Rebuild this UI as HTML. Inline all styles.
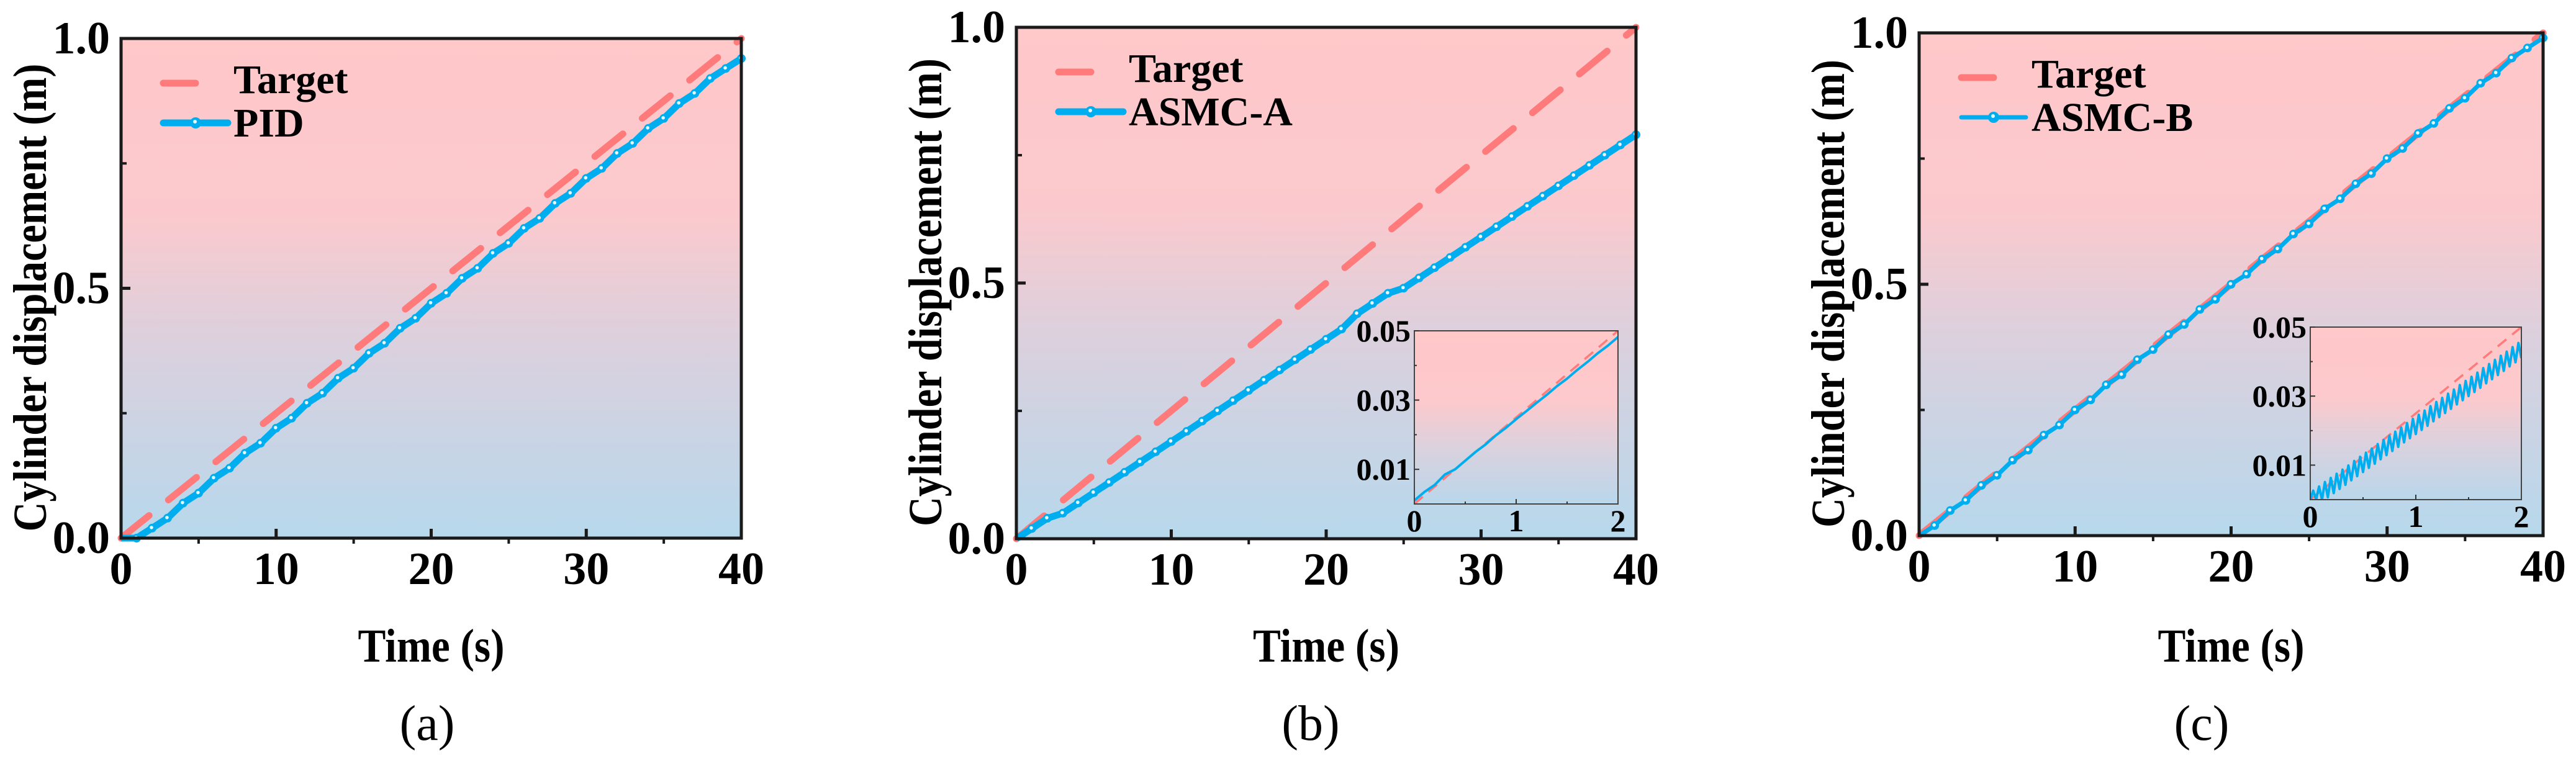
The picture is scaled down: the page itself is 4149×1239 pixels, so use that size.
<!DOCTYPE html>
<html><head><meta charset="utf-8"><style>
html,body{margin:0;padding:0;background:#fff;}
svg{display:block;font-family:"Liberation Serif",serif;}
</style></head>
<body>
<svg id="fig" width="4149" height="1239" viewBox="0 0 4149 1239" xmlns="http://www.w3.org/2000/svg">
<defs>
<linearGradient id="bg" x1="0" y1="0" x2="0" y2="1">
<stop offset="0" stop-color="#ffc8c9"/><stop offset="0.35" stop-color="#fbc9cd"/>
<stop offset="0.6" stop-color="#dcd0dd"/><stop offset="1" stop-color="#b7d8ec"/>
</linearGradient>
<linearGradient id="bgi" x1="0" y1="0" x2="0" y2="1">
<stop offset="0" stop-color="#ffc8c9"/><stop offset="0.4" stop-color="#fdc9cc"/>
<stop offset="0.7" stop-color="#d8d2df"/><stop offset="1" stop-color="#b9d7eb"/>
</linearGradient>
</defs>
</svg>
<script>
// ---- data ----
const timeSec = [0,1,2,3,4,5,6,7,8,9,10,11,12,13,14,15,16,17,18,19,20,21,22,23,24,25,26,27,28,29,30,31,32,33,34,35,36,37,38,39,40];
const targetT = [0,40];
const targetV = [0,1.0];
const pidV = [0,0,0.02,0.04,0.07,0.09,0.12,0.14,0.17,0.19,0.22,0.24,0.27,0.29,0.32,0.34,0.37,0.39,0.42,0.44,0.47,0.49,0.52,0.54,0.57,0.59,0.62,0.64,0.67,0.69,0.72,0.74,0.77,0.79,0.82,0.84,0.87,0.89,0.92,0.94,0.96];
const asmcAV = [0,0.02,0.04,0.05,0.07,0.09,0.11,0.13,0.15,0.17,0.19,0.21,0.23,0.25,0.27,0.29,0.31,0.33,0.35,0.37,0.39,0.41,0.44,0.46,0.48,0.49,0.51,0.53,0.55,0.57,0.59,0.61,0.63,0.65,0.67,0.69,0.71,0.73,0.75,0.77,0.79];
const asmcBV = [0,0.02,0.05,0.07,0.10,0.12,0.15,0.17,0.20,0.22,0.25,0.27,0.30,0.32,0.35,0.37,0.40,0.42,0.45,0.47,0.50,0.52,0.55,0.57,0.60,0.62,0.65,0.67,0.70,0.72,0.75,0.77,0.80,0.82,0.85,0.87,0.90,0.92,0.95,0.97,0.99];
const xTicks = [0,10,20,30,40];
const xMinor = [5,15,25,35];
const yTicks = [0,0.5,1.0];
const yTickLabels = ["0.0","0.5","1.0"];
const yMinor = [0.25,0.75];
// inset data
const insetTargetT = [0,2];
const insetTargetV = [0,0.05];
const insetAStep = 0.1;
const insetAV = [0.001,0.0035,0.0055,0.0085,0.0100,0.0125,0.0150,0.0172,0.0198,0.0220,0.0245,0.0268,0.0292,0.0315,0.0340,0.0362,0.0387,0.0410,0.0435,0.0457,0.0482];
const insetBStep = 2/72;
const insetBV = [0,0.0026,0,0.0038,0,0.0051,0.0007,0.0063,0.0019,0.0075,0.0031,0.0087,0.0043,0.0099,0.0056,0.0112,0.0068,0.0124,0.0080,0.0136,0.0092,0.0148,0.0104,0.0161,0.0117,0.0173,0.0129,0.0185,0.0141,0.0197,0.0153,0.0209,0.0166,0.0222,0.0178,0.0234,0.0190,0.0246,0.0202,0.0258,0.0214,0.0271,0.0227,0.0283,0.0239,0.0295,0.0251,0.0307,0.0263,0.0319,0.0276,0.0332,0.0288,0.0344,0.0300,0.0356,0.0312,0.0368,0.0324,0.0381,0.0337,0.0393,0.0349,0.0405,0.0361,0.0417,0.0373,0.0429,0.0386,0.0442,0.0398,0.0454,0.0410];
const insetXTicks = [0,1,2];
const insetXMinor = [0.5,1.5];
const insetYTicks = [0.01,0.03,0.05];
const insetYTickLabels = ["0.01","0.03","0.05"];
const insetYMinor = [0.02,0.04];

const NS = "http://www.w3.org/2000/svg";
const svg = document.getElementById('fig');
function mk(tag, attrs, parent){const e=document.createElementNS(NS,tag);for(const k in attrs)e.setAttribute(k,attrs[k]);(parent||svg).appendChild(e);return e;}
function txt(s, attrs, parent){const e=mk('text',attrs,parent);e.textContent=s;return e;}

const TCOL="#ff7b7b", BCOL="#00aeef";

function panel(P){
  const g = mk('g',{});
  
  
  const sx = v => P.L + (v-0)/40*(P.R-P.L);
  const sy = v => P.B - (v-0)/1*(P.B-P.T);
  const bg = mk('rect',{x:P.L,y:P.T,width:P.R-P.L,height:P.B-P.T,fill:'url(#bg)'},g);
  
  
  const tgt = mk('polyline',{points:targetT.map((t,i)=>sx(t)+','+sy(targetV[i])).join(' '),fill:'none',stroke:TCOL,'stroke-width':11,'stroke-dasharray':'58 40','stroke-linecap':'round'},g);
  
  
  const ser = mk('polyline',{points:timeSec.map((t,i)=>sx(t)+','+sy(P.vals[i])).join(' '),fill:'none',stroke:BCOL,'stroke-width':P.sw,'stroke-linejoin':'round'},g);
  
  
  timeSec.forEach((t,i)=>{
    if(t===0) return;
    const c = mk('circle',{cx:sx(t),cy:sy(P.vals[i]),r:7,fill:BCOL},g);
    
    
    mk('circle',{cx:sx(t)-1,cy:sy(P.vals[i])-1,r:2.8,fill:'#e8f8ff'},g);
  });
  if(P.inset) inset(P.inset, g);
  const fr = mk('rect',{x:P.L,y:P.T,width:P.R-P.L,height:P.B-P.T,fill:'none',stroke:'#1a1a1a','stroke-width':5},g);
  
  
  xTicks.forEach(v=>{
    if(v>0&&v<40) mk('line',{x1:sx(v),x2:sx(v),y1:P.B,y2:P.B-15,stroke:'#1a1a1a','stroke-width':5},g);
    const l = txt(String(v),{x:sx(v),y:P.B+74,'font-size':74,'font-weight':'bold','text-anchor':'middle'},g);
    
    
  });
  xMinor.forEach(v=>mk('line',{x1:sx(v),x2:sx(v),y1:P.B,y2:P.B+9,stroke:'#1a1a1a','stroke-width':4},g));
  yTicks.forEach((v,i)=>{
    const l = txt(yTickLabels[i],{x:P.L-18,y:sy(v)+24,'font-size':74,'font-weight':'bold','text-anchor':'end'},g);
    
    
    if(v>0&&v<1) mk('line',{x1:P.L,x2:P.L+15,y1:sy(v),y2:sy(v),stroke:'#1a1a1a','stroke-width':5},g);
  });
  yMinor.forEach(v=>mk('line',{x1:P.L,x2:P.L+9,y1:sy(v),y2:sy(v),stroke:'#1a1a1a','stroke-width':4},g));
  const lg = mk('g',{},g);
  
  
  const lx = P.L+68, ly1 = P.T+72, ly2 = P.T+136;
  mk('line',{x1:lx,x2:lx+52,y1:ly1,y2:ly1,stroke:TCOL,'stroke-width':11,'stroke-linecap':'round'},lg);
  const t1 = txt('Target',{x:P.L+181,y:ly1+16,'font-size':66,'font-weight':'bold'},lg);
  
  
  mk('line',{x1:lx,x2:lx+104,y1:ly2,y2:ly2,stroke:BCOL,'stroke-width':P.sw,'stroke-linecap':'round'},lg);
  mk('circle',{cx:lx+52,cy:ly2,r:9,fill:BCOL},lg);
  mk('circle',{cx:lx+51,cy:ly2-2,r:3,fill:'#e8f8ff'},lg);
  const t2 = txt(P.series,{x:P.L+181,y:ly2+22,'font-size':66,'font-weight':'bold'},lg);
  
  
  const xt = txt('Time (s)',{x:(P.L+P.R)/2,y:1066,'font-size':76,'font-weight':'bold','text-anchor':'middle',textLength:236,lengthAdjust:'spacingAndGlyphs'},g);
  
  
  const cy = (P.T+P.B)/2+15, cx = P.L-147;
  const yt = txt('Cylinder displacement (m)',{x:cx,y:cy+26,'font-size':76,'font-weight':'bold','text-anchor':'middle',textLength:754,lengthAdjust:'spacingAndGlyphs',transform:`rotate(-90 ${cx} ${cy})`},g);
  
  
  const cap = txt(P.cap,{x:P.capX,y:1192,'font-size':80,'text-anchor':'middle'},g);
  
  
}

function inset(I, parent){
  const g = mk('g',{},parent);
  
  
  const sx = v => I.L + v/2*(I.R-I.L);
  const sy = v => I.B - v/0.05*(I.B-I.T);
  mk('rect',{x:I.L,y:I.T,width:I.R-I.L,height:I.B-I.T,fill:'url(#bgi)'},g);
  const cp = 'clip-'+I.L;
  const c = mk('clipPath',{id:cp},g); mk('rect',{x:I.L,y:I.T,width:I.R-I.L,height:I.B-I.T},c);
  const t = mk('polyline',{points:insetTargetT.map((x,i)=>sx(x)+','+sy(insetTargetV[i])).join(' '),fill:'none',stroke:TCOL,'stroke-width':3.5,'stroke-dasharray':'18 12','clip-path':`url(#${cp})`},g);
  
  
  const s = mk('polyline',{points:I.vals.map((v,i)=>sx(i*I.step)+','+sy(v)).join(' '),fill:'none',stroke:BCOL,'stroke-width':I.sw,'stroke-linejoin':'round','clip-path':`url(#${cp})`},g);
  
  
  mk('rect',{x:I.L,y:I.T,width:I.R-I.L,height:I.B-I.T,fill:'none',stroke:'#444','stroke-width':2},g);
  insetXTicks.forEach(v=>{
    if(v>0&&v<2) mk('line',{x1:sx(v),x2:sx(v),y1:I.B,y2:I.B-8,stroke:'#333','stroke-width':2},g);
    const l = txt(String(v),{x:sx(v),y:I.B+44,'font-size':50,'font-weight':'bold','text-anchor':'middle'},g);
    
    
  });
  insetXMinor.forEach(v=>mk('line',{x1:sx(v),x2:sx(v),y1:I.B,y2:I.B-4,stroke:'#333','stroke-width':2},g));
  insetYTicks.forEach((v,i)=>{
    mk('line',{x1:I.L,x2:I.L+8,y1:sy(v),y2:sy(v),stroke:'#333','stroke-width':2},g);
    const l = txt(insetYTickLabels[i],{x:I.L-6,y:sy(v)+17,'font-size':50,'font-weight':'bold','text-anchor':'end'},g);
    
    
  });
  insetYMinor.forEach(v=>mk('line',{x1:I.L,x2:I.L+4,y1:sy(v),y2:sy(v),stroke:'#333','stroke-width':2},g));
}

panel({id:'a',L:195,R:1194,T:62,B:867,vals:pidV,series:'PID',sw:11,cap:'(a)',capX:688});
panel({id:'b',L:1637,R:2635,T:44,B:868,vals:asmcAV,series:'ASMC-A',sw:11,cap:'(b)',capX:2111,
  inset:{L:2278,R:2606,T:533,B:812,vals:insetAV,step:insetAStep,sw:4}});
panel({id:'c',L:3091,R:4096,T:53,B:863,vals:asmcBV,series:'ASMC-B',sw:7,cap:'(c)',capX:3546,
  inset:{L:3721,R:4061,T:527,B:805,vals:insetBV,step:insetBStep,sw:4}});
</script>
</body></html>
